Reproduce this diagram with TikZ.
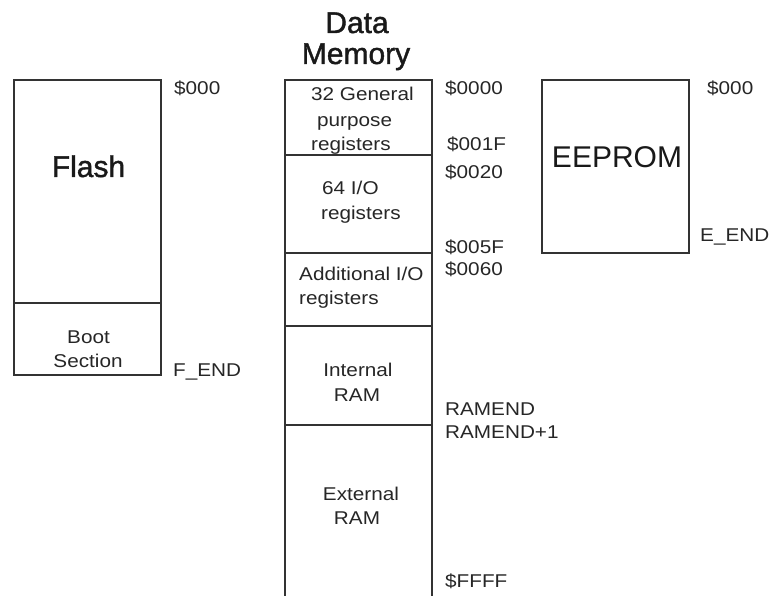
\documentclass[tikz,border=0pt]{standalone}
\usepackage{fontspec}
\setmainfont{Liberation Sans}
\newfontfamily\lblfont{Liberation Sans}[FakeStretch=1.12]
\newfontfamily\heavyfont{Liberation Sans}[FakeBold=1.3]
\begin{document}
\begin{tikzpicture}[x=1pt,y=-1pt,
  lbl/.style={font=\lblfont\fontsize{18.5}{20}\selectfont, inner sep=0pt, anchor=base west, text=black!85},
  lblc/.style={lbl, anchor=base},
  big/.style={font=\fontsize{30}{32}\selectfont, inner sep=0pt, anchor=base, text=black!90},
  bighv/.style={big, font=\heavyfont\fontsize{30}{32}\selectfont},
  memline/.style={draw=black!80, line width=1.3pt}]
\useasboundingbox (0,0) rectangle (771,596);
% Flash
\draw[memline] (14,80) rectangle (161,375);
\draw[memline] (14,303) -- (161,303);
\node[bighv] (flash) at (88.5,177) {Flash};
\node[lblc] (boot) at (88.5,343) {Boot};
\node[lblc] (section) at (88,367) {Section};
\node[lbl] (f0) at (174,95) {\$000};
\node[lbl] (fend) at (173,376) {F\_END};
% Data memory
\node[bighv] (data) at (357,33) {Data};
\node[bighv] (memory) at (356,64) {Memory};
\draw[memline] (285,596) -- (285,80) -- (432,80) -- (432,596);
\draw[memline] (285,155) -- (432,155);
\draw[memline] (285,253) -- (432,253);
\draw[memline] (285,326) -- (432,326);
\draw[memline] (285,425) -- (432,425);
\node[lbl] (g1) at (311,101) {32 General};
\node[lbl] (g2) at (317,127) {purpose};
\node[lbl] (g3) at (311,151) {registers};
\node[lbl] (io1) at (322,195) {64 I/O};
\node[lbl] (io2) at (321,219) {registers};
\node[lbl] (ad1) at (299,280) {Additional I/O};
\node[lbl] (ad2) at (299,304) {registers};
\node[lblc] (in1) at (358,376) {Internal};
\node[lblc] (in2) at (357,401) {RAM};
\node[lblc] (ex1) at (361,500) {External};
\node[lblc] (ex2) at (357,524) {RAM};
\node[lbl] (a0) at (445,95) {\$0000};
\node[lbl] (a1) at (447,151) {\$001F};
\node[lbl] (a2) at (445,179) {\$0020};
\node[lbl] (a3) at (445,254) {\$005F};
\node[lbl] (a4) at (445,276) {\$0060};
\node[lbl] (a5) at (445,415) {RAMEND};
\node[lbl] (a6) at (445,438) {RAMEND+1};
\node[lbl] (a7) at (445,587) {\$FFFF};
% EEPROM
\draw[memline] (542,80) rectangle (689,253);
\node[big] (eeprom) at (617,168) {EEPROM};
\node[lbl] (e0) at (707,95) {\$000};
\node[lbl] (eend) at (700,242) {E\_END};
\end{tikzpicture}
\end{document}
